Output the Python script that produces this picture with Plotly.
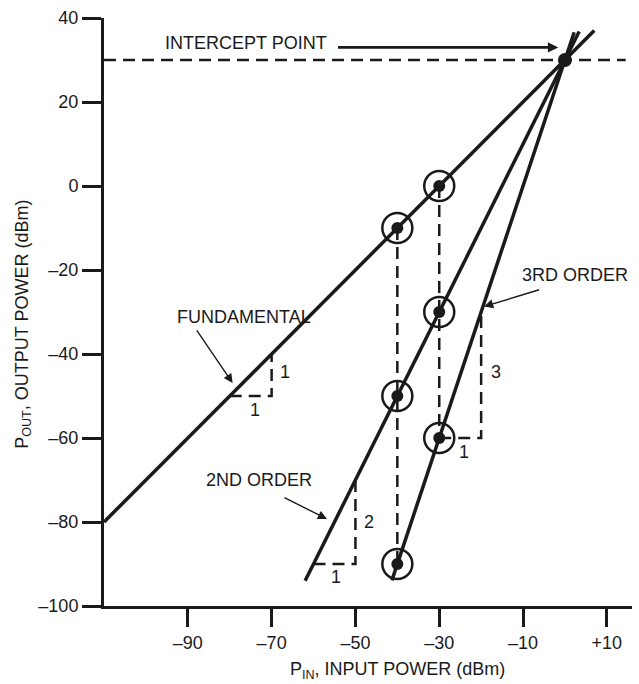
import plotly.graph_objects as go

# measured points (input dBm -> output dBm)
pin_pts = [-40, -30]
fund_pts = [-10, 0]
second_pts = [-50, -30]
third_pts = [-90, -60]

# intercept point
ip_x = [0]
ip_y = [30]

# drawn extent of each response line
fund_x = [-110, 7]
fund_y = [-80, 37]
second_x = [-62, 3.4]
second_y = [-94, 36.8]
third_x = [-41.3, 2.2]
third_y = [-93.9, 36.6]

# slope triangles
fund_tri_x = [-80, -70, -70]
fund_tri_y = [-50, -50, -40]
second_tri_x = [-60, -50, -50]
second_tri_y = [-90, -90, -70]
third_tri_x = [-30, -20, -20]
third_tri_y = [-60, -60, -30]

x_ticks = [-90, -70, -50, -30, -10, 10]
x_ticklabels = ['–90', '–70', '–50', '–30', '–10', '+10']
y_ticks = [40, 20, 0, -20, -40, -60, -80, -100]
y_ticklabels = ['40', '20', '0', '–20', '–40', '–60', '–80', '–100']

FONT = 'Liberation Sans, Arial, sans-serif'
BLACK = '#1a1a1a'
FS = 18

fig = go.Figure()

# dashed guide lines
dash = dict(color=BLACK, width=2.5, dash='12px,7px')
fig.add_trace(go.Scatter(x=[-110, 14.5], y=[ip_y[0], ip_y[0]], mode='lines', line=dash))
for i, x in enumerate(pin_pts):
    fig.add_trace(go.Scatter(x=[x, x], y=[fund_pts[i], third_pts[i]], mode='lines', line=dash))
for tx, ty in [(fund_tri_x, fund_tri_y), (second_tri_x, second_tri_y), (third_tri_x, third_tri_y)]:
    fig.add_trace(go.Scatter(x=tx, y=ty, mode='lines', line=dash))

# response lines
for lx, ly in [(fund_x, fund_y), (second_x, second_y), (third_x, third_y)]:
    fig.add_trace(go.Scatter(x=lx, y=ly, mode='lines', line=dict(color=BLACK, width=3.5)))

# circled points
all_x = pin_pts * 3
all_y = fund_pts + second_pts + third_pts
fig.add_trace(go.Scatter(x=all_x, y=all_y, mode='markers',
                         marker=dict(size=30, color='rgba(0,0,0,0)',
                                     line=dict(color=BLACK, width=2.5))))
fig.add_trace(go.Scatter(x=all_x, y=all_y, mode='markers',
                         marker=dict(size=12, color=BLACK)))
fig.add_trace(go.Scatter(x=ip_x, y=ip_y, mode='markers',
                         marker=dict(size=14, color=BLACK)))

# text labels
labels = [
    ('INTERCEPT POINT', -76.1, 34),
    ('FUNDAMENTAL', -76.5, -31.2),
    ('2ND ORDER', -72.9, -70),
    ('3RD ORDER', 2.4, -21.1),
    ('1', -74, -53.3),
    ('1', -66.9, -44.2),
    ('2', -46.7, -80),
    ('1', -54.6, -93),
    ('3', -16.5, -44.2),
    ('1', -24, -63.3),
]
for txt, x, y in labels:
    fig.add_annotation(x=x, y=y, text=txt, showarrow=False,
                       xanchor='center', yanchor='middle',
                       font=dict(family=FONT, size=FS, color=BLACK))

# arrows (tail -> tip)
arrows = [
    (-54.5, 33, -1.6, 33, 2.6, 0.8),
    (-88.1, -34, -79.3, -46.9, 1.4, 1.3),
    (-67.3, -74, -56.8, -79.3, 1.4, 1.3),
    (-5.8, -24.6, -19.3, -28.7, 1.4, 1.3),
]
for ax, ay, x, y, w, s in arrows:
    fig.add_annotation(x=x, y=y, ax=ax, ay=ay, xref='x', yref='y', axref='x', ayref='y',
                       text='', showarrow=True, arrowhead=2, arrowsize=s,
                       arrowwidth=w, arrowcolor=BLACK, standoff=0)

# axis titles
fig.add_annotation(x=-40, y=-0.109, xref='x', yref='paper', showarrow=False,
                   xanchor='center', yanchor='middle',
                   text='P<sub>IN</sub>, INPUT POWER (dBm)',
                   font=dict(family=FONT, size=FS, color=BLACK))
fig.add_annotation(x=-0.153, y=-33, xref='paper', yref='y', showarrow=False,
                   xanchor='center', yanchor='middle',
                   textangle=-90, text='P<sub>OUT</sub>, OUTPUT POWER (dBm)',
                   font=dict(family=FONT, size=FS, color=BLACK))

fig.update_xaxes(range=[-110, 16], tickvals=x_ticks, ticktext=x_ticklabels,
                 showline=True, linewidth=3, linecolor=BLACK, automargin=False,
                 ticks='outside', ticklen=18, tickwidth=3, tickcolor=BLACK,
                 showgrid=False, zeroline=False,
                 tickfont=dict(family=FONT, size=FS, color=BLACK))
fig.update_yaxes(range=[-100, 40], tickvals=y_ticks, ticktext=y_ticklabels,
                 showline=True, linewidth=3, linecolor=BLACK, automargin=False,
                 ticks='outside', ticklen=19, tickwidth=3, tickcolor=BLACK,
                 showgrid=False, zeroline=False,
                 tickfont=dict(family=FONT, size=FS, color=BLACK))

fig.update_layout(
    width=639, height=684,
    margin=dict(l=104, r=7, t=18, b=78),
    plot_bgcolor='white', paper_bgcolor='white',
    showlegend=False,
)

fig.write_html("out.html", config={'displayModeBar': False},
               post_script="document.body.style.margin='0';")
